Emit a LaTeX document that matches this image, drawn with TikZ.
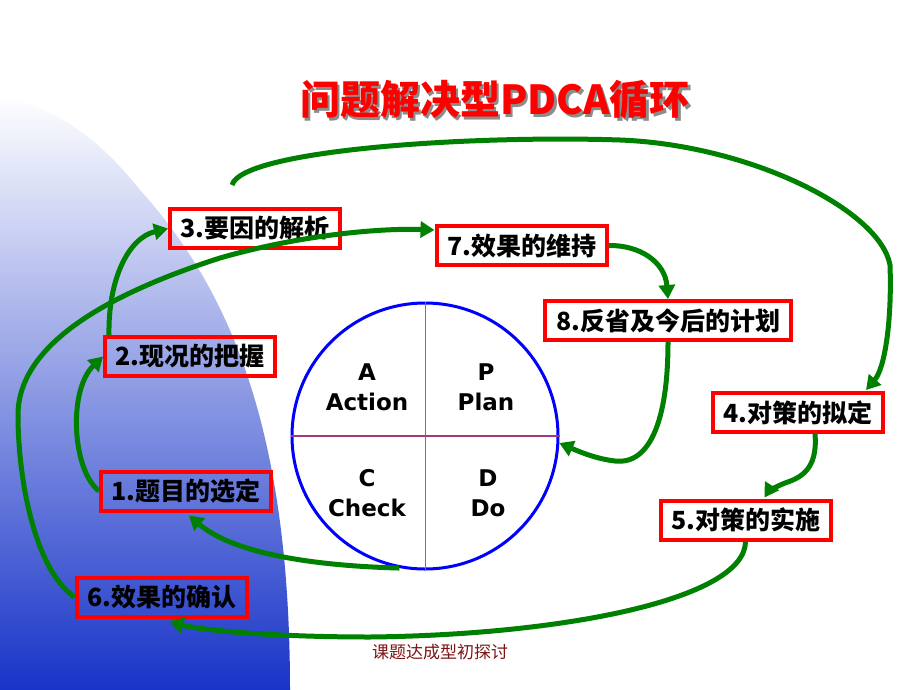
\documentclass[tikz,border=0pt]{standalone}
\usepackage{fontspec}
\setmainfont{Noto Sans CJK SC}
\newfontfamily\latinbold{DejaVu Sans}
\usetikzlibrary{arrows.meta,calc}
\definecolor{boxred}{RGB}{255,0,0}
\definecolor{arrgreen}{RGB}{0,128,0}
\definecolor{circblue}{RGB}{0,0,255}
\definecolor{vline}{RGB}{230,40,230}
\definecolor{hline}{RGB}{160,60,120}
\definecolor{footred}{RGB}{125,20,20}
\definecolor{bgblue}{RGB}{24,52,200}
\definecolor{bgmid}{RGB}{176,176,228}
\tikzset{
  stepbox/.style={draw=boxred, line width=4pt, minimum width=170pt, minimum height=39pt,
    inner sep=0pt, font=\fontsize{25}{25}\selectfont\bfseries, text=black},
  flow/.style={draw=arrgreen, line width=5pt, -{Triangle[length=14pt,width=16pt]}},
  quad/.style={font=\latinbold\bfseries\fontsize{23}{30}\selectfont, align=center, text=black}
}
\begin{document}
\begin{tikzpicture}[x=1pt,y=-1pt]
\useasboundingbox (0,0) rectangle (920,690);
% background
\fill[white] (0,0) rectangle (920,690);
\shade[top color=white, middle color=bgmid, bottom color=bgblue]
  (0,95) .. controls (60,110) and (100,140) .. (140,190)
  .. controls (230,290) and (290,430) .. (290,690) -- (0,690) -- cycle;
% title
\node[text=gray!90, font=\fontsize{40}{40}\selectfont\bfseries] (titleshadow) at (497.5,102.5) {问题解决型PDCA循环};
\node[text=boxred, font=\fontsize{40}{40}\selectfont\bfseries] (title) at (495,100) {问题解决型PDCA循环};
% circle
\node[draw=circblue, line width=3pt, circle, minimum size=266pt, inner sep=0pt] (pdca) at (425,436) {};
\draw[vline, line width=1pt] (pdca.north) -- (pdca.south);
\draw[hline, line width=1.2pt] (pdca.west) -- (pdca.east);
\node[quad] (qa) at (367,387) {A\\Action};
\node[quad] (qp) at (486,387) {P\\Plan};
\node[quad] (qc) at (367,493) {C\\Check};
\node[quad] (qd) at (488,493) {D\\Do};
% boxes
\node[stepbox] (b3) at (255,228.5) {3.要因的解析};
\node[stepbox] (b7) at (521.5,245.5) {7.效果的维持};
\node[stepbox, minimum width=246pt] (b8) at (668,320.5) {8.反省及今后的计划};
\node[stepbox] (b2) at (190,356.5) {2.现况的把握};
\node[stepbox] (b1) at (186,491) {1.题目的选定};
\node[stepbox] (b6) at (161.5,597) {6.效果的确认};
\node[stepbox] (b4) at (798,412.5) {4.对策的拟定};
\node[stepbox] (b5) at (745.5,520) {5.对策的实施};
% arrows
\draw[flow] (b1.west) .. controls (72,470) and (68,390) .. (b2.west);
\draw[flow] ($(b2.north west)+(6,0)$) .. controls (108,280) and (128,238) .. (b3.west);
\draw[flow] (b6.west) .. controls (35,570) and (18,480) .. (18,415)
  .. controls (18,340) and (120,290) .. (220,258)
  .. controls (300,235) and (380,228) .. ($(b7.north west)+(0,6)$);
\draw[flow] (b7.east) .. controls (640,245) and (665,262) .. (b8.north);
\draw[flow] (b8.south) .. controls (668,420) and (650,465) .. (615,461)
  .. controls (597,459) and (580,452) .. (pdca.-3);
\draw[flow] ($(b3.north)+(-23,-22)$) .. controls (242,150) and (470,135) .. (620,140)
  .. controls (750,145) and (880,210) .. (890,265)
  .. controls (892,320) and (885,368) .. ($(b4.north east)+(-19,-1)$);
\draw[flow] ($(b4.south)+(17,0)$) .. controls (818,470) and (800,478) .. (785,483)
  .. controls (775,487) and (768,492) .. ($(b5.north)+(19,-1)$);
\draw[flow] (b5.south) .. controls (745,600) and (560,635) .. (370,637)
  .. controls (270,637) and (200,630) .. ($(b6.south)+(8,3)$);
\draw[flow] (pdca.259) .. controls (320,566) and (235,555) .. ($(b1.south)+(3,3)$);
% footer
\node[text=footred, font=\fontsize{17}{17}\selectfont] (footer) at (440,652) {课题达成型初探讨};
\end{tikzpicture}
\end{document}
